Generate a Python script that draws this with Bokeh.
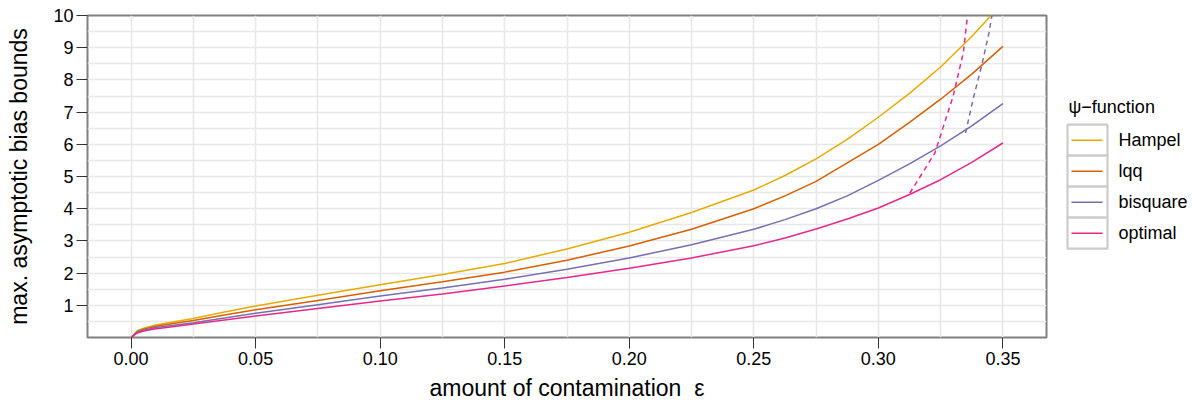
from bokeh.plotting import figure
from bokeh.models import Range1d, FixedTicker
from bokeh.layouts import row
from bokeh.core.properties import value
from bokeh.embed import file_html
from bokeh.resources import INLINE

# ---- data ----
eps = [0, 0.0025, 0.005, 0.01, 0.015, 0.025, 0.0375, 0.05, 0.075, 0.1, 0.125,
       0.15, 0.175, 0.2, 0.225, 0.25, 0.2625, 0.275, 0.2875, 0.3, 0.3125,
       0.325, 0.3375, 0.35]
hampel = [0, 0.21, 0.29, 0.39, 0.46, 0.59, 0.79, 0.98, 1.31, 1.64, 1.96,
          2.30, 2.75, 3.27, 3.88, 4.58, 5.03, 5.55, 6.15, 6.84, 7.58,
          8.40, 9.35, 10.4]
lqq = [0, 0.19, 0.26, 0.35, 0.41, 0.53, 0.70, 0.86, 1.15, 1.45, 1.73,
       2.03, 2.40, 2.84, 3.36, 4.00, 4.40, 4.85, 5.42, 6.00, 6.68,
       7.40, 8.18, 9.04]
bisquare = [0, 0.17, 0.23, 0.31, 0.36, 0.46, 0.605, 0.75, 1.02, 1.29, 1.54,
            1.81, 2.12, 2.47, 2.88, 3.36, 3.66, 4.00, 4.40, 4.88, 5.39,
            5.95, 6.57, 7.26]
optimal = [0, 0.14, 0.20, 0.27, 0.32, 0.42, 0.545, 0.67, 0.90, 1.13, 1.35,
           1.60, 1.86, 2.15, 2.47, 2.85, 3.09, 3.37, 3.68, 4.02, 4.44,
           4.90, 5.44, 6.04]

# dashed continuation curves
opt_dash_eps = [0.3126, 0.3227, 0.3300, 0.3341, 0.3358, 0.3362]
opt_dash_val = [4.48, 5.73, 7.49, 8.84, 10.0, 10.2]
bis_dash_eps = [0.3350, 0.3380, 0.3414, 0.3444, 0.3456, 0.3460]
bis_dash_val = [6.35, 7.39, 8.42, 9.46, 10.0, 10.2]

series_names = ["Hampel", "lqq", "bisquare", "optimal"]
series_vals = [hampel, lqq, bisquare, optimal]
colors = ["#E6AB02", "#D95F02", "#7570B3", "#E7298A"]

x_ticks = [0.0, 0.05, 0.10, 0.15, 0.20, 0.25, 0.30, 0.35]
x_tick_labels = ["0.00", "0.05", "0.10", "0.15", "0.20", "0.25", "0.30", "0.35"]
x_grid = [0.0, 0.025, 0.05, 0.075, 0.1, 0.125, 0.15, 0.175, 0.2, 0.225,
          0.25, 0.275, 0.3, 0.325, 0.35]
y_ticks = [1, 2, 3, 4, 5, 6, 7, 8, 9, 10]
y_grid = [0.5, 1, 1.5, 2, 2.5, 3, 3.5, 4, 4.5, 5, 5.5, 6, 6.5, 7, 7.5, 8,
          8.5, 9, 9.5, 10]

FONT = "Liberation Sans"

p = figure(width=1056, height=403,
           x_range=Range1d(-0.0175, 0.3675), y_range=Range1d(0, 10),
           output_backend="svg", toolbar_location=None,
           min_border_left=87, min_border_right=10,
           min_border_top=15, min_border_bottom=65)

p.background_fill_color = "white"
p.border_fill_color = "white"
p.outline_line_color = "#808080"
p.outline_line_width = 2

p.xgrid.ticker = FixedTicker(ticks=x_grid)
p.ygrid.ticker = FixedTicker(ticks=y_grid)
for g in (p.xgrid, p.ygrid):
    g.grid_line_color = "#e8e8e8"
    g.grid_line_width = 1.6

p.xaxis.ticker = FixedTicker(ticks=x_ticks)
p.xaxis.major_label_overrides = {t: l for t, l in zip(x_ticks, x_tick_labels)}
p.yaxis.ticker = FixedTicker(ticks=y_ticks)

for ax in (p.xaxis, p.yaxis):
    ax.axis_line_color = None
    ax.major_tick_line_color = "#333333"
    ax.major_tick_line_width = 1
    ax.major_tick_in = 0
    ax.major_tick_out = 11
    ax.minor_tick_line_color = None
    ax.major_label_text_font = FONT
    ax.major_label_text_font_size = "18px"
    ax.major_label_text_color = "black"
    ax.major_label_standoff = 3
    ax.axis_label_text_font = FONT
    ax.axis_label_text_font_size = "23px"
    ax.axis_label_text_font_style = "normal"
    ax.axis_label_text_color = "black"

p.xaxis.axis_label = "amount of contamination\u00a0\u00a0ε"
p.yaxis.axis_label = "max. asymptotic bias bounds"
p.xaxis.axis_label_standoff = 7
p.yaxis.axis_label_standoff = 18

for name, vals, c in zip(series_names, series_vals, colors):
    p.line(eps, vals, line_color=c, line_width=1.5)

p.line(opt_dash_eps, opt_dash_val, line_color=colors[3], line_width=1.5,
       line_dash="5 4")
p.line(bis_dash_eps, bis_dash_val, line_color=colors[2], line_width=1.5,
       line_dash="5 4")

# ---- legend panel ----
LW = 134
lg = figure(width=LW, height=403, x_range=Range1d(0, LW),
            y_range=Range1d(403, 0), output_backend="svg",
            toolbar_location=None, x_axis_type=None, y_axis_type=None,
            min_border=0)
lg.outline_line_color = None
lg.grid.visible = False
lg.background_fill_color = "white"
lg.border_fill_color = "white"

row_h = 38.8
first_y = 156.0
ys = [first_y + i * row_h for i in range(len(series_names))]
lg.text(x=[12], y=[115], text=["ψ−function"], text_font=value(FONT),
        text_font_size="18px", text_baseline="middle", text_color="black")
lg.rect(x=[31] * len(ys), y=ys, width=40, height=row_h,
        fill_color="white", line_color="#cccccc", line_width=2.2)
lg.segment(x0=[15] * len(ys), y0=ys, x1=[46] * len(ys), y1=ys,
           line_color=colors, line_width=1.5)
lg.text(x=[62] * len(ys), y=ys, text=series_names, text_font=value(FONT),
        text_font_size="18px", text_baseline="middle", text_color="black")

layout = row(p, lg)
open("out.html", "w").write(file_html(layout, INLINE))
